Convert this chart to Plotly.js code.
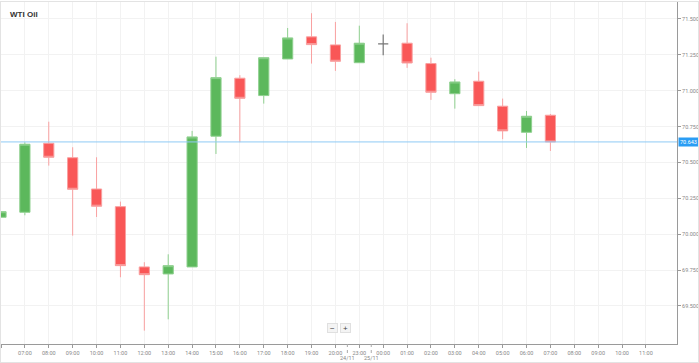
<!DOCTYPE html>
<html>
<head>
<meta charset="utf-8">
<script src="https://cdn.plot.ly/plotly-3.0.1.min.js"></script>
<style>
  html, body { margin: 0; padding: 0; background: #fff; }
  #wrap { position: absolute; left: 0; top: 1px; width: 699px; height: 362px; box-sizing: border-box; border: 1px solid #e3e3e3; }
  #chart { width: 697px; height: 360px; }
</style>
</head>
<body>
<div id="wrap"><div id="chart"></div></div>
<script>
// Hour labels of the x axis (24/11 06:00 ... 25/11 11:00)
const hourLabels = ['06:00','07:00','08:00','09:00','10:00','11:00','12:00','13:00','14:00','15:00','16:00','17:00','18:00','19:00','20:00',
                    '23:00','00:00','01:00','02:00','03:00','04:00','05:00','06:00','07:00','08:00','09:00','10:00','11:00'];
// OHLC values for the candles (first 24 hours)
const openV  = [70.118,70.153,70.634,70.533,70.315,70.192,69.772,69.723,69.772,70.683,71.087,70.966,71.221,71.375,71.319,71.195,71.326,71.331,71.189,70.979,71.066,70.892,70.710,70.829];
const highV  = [70.160,70.641,70.784,70.606,70.536,70.227,69.805,69.860,70.720,71.237,71.108,71.230,71.437,71.540,71.479,71.453,71.391,71.470,71.230,71.080,71.133,70.945,70.859,70.838];
const lowV   = [70.118,70.132,70.478,69.990,70.120,69.700,69.328,69.407,69.772,70.559,70.641,70.910,71.221,71.189,71.138,71.195,71.247,71.159,70.936,70.875,70.896,70.662,70.601,70.580];
const closeV = [70.157,70.627,70.536,70.313,70.195,69.781,69.718,69.781,70.678,71.091,70.947,71.230,71.368,71.321,71.205,71.331,71.326,71.193,70.989,71.061,70.896,70.720,70.822,70.643];
// Y tick values
const yTicks = [69.5,69.75,70.0,70.25,70.5,70.75,71.0,71.25,71.5];
// Day markers
const dayLabels = ['24/11','25/11'];

const pos = hourLabels.map((_, i) => i);
const idxMain = [], idxDoji = [];
openV.forEach((o, i) => { (o === closeV[i] ? idxDoji : idxMain).push(i); });
const pick = (arr, idx) => idx.map(i => arr[i]);

const GREEN = '#5cb85c', GREEN_L = '#8fd08f';
const RED = '#f95757', RED_L = '#f9a0a0';

const traces = [
  {
    type: 'candlestick',
    x: pick(pos, idxMain), open: pick(openV, idxMain), high: pick(highV, idxMain),
    low: pick(lowV, idxMain), close: pick(closeV, idxMain),
    increasing: { fillcolor: GREEN, line: { color: GREEN_L, width: 1 } },
    decreasing: { fillcolor: RED, line: { color: RED_L, width: 1 } },
    whiskerwidth: 0, hoverinfo: 'skip', showlegend: false
  },
  {
    type: 'candlestick',
    x: pick(pos, idxDoji), open: pick(openV, idxDoji), high: pick(highV, idxDoji),
    low: pick(lowV, idxDoji), close: pick(closeV, idxDoji),
    increasing: { fillcolor: '#777', line: { color: '#777', width: 1.2 } },
    decreasing: { fillcolor: '#777', line: { color: '#777', width: 1.2 } },
    whiskerwidth: 0, hoverinfo: 'skip', showlegend: false
  }
];

const lastClose = closeV[closeV.length - 1];
const dayPos = [hourLabels.indexOf('20:00') + 0.5, hourLabels.indexOf('00:00') - 0.5];

const tickFont = { family: 'Roboto, Arial, sans-serif', size: 5.5, color: '#888' };

const layout = {
  width: 697, height: 360,
  margin: { l: 0, r: 21, t: 0, b: 18 },
  paper_bgcolor: '#fff', plot_bgcolor: '#fff',
  boxgap: 0.39,
  title: { text: '<b>WTI Oil</b>', x: 0.013, xanchor: 'left', xref: 'container', y: 0.967, yref: 'container', yanchor: 'middle',
           font: { family: 'Arial, Liberation Sans, sans-serif', size: 8, color: '#333' } },
  xaxis: {
    range: [0, 28.3], tickvals: pos, ticktext: hourLabels,
    showgrid: true, gridcolor: '#f2f2f2', gridwidth: 1, zeroline: false,
    showline: true, linecolor: '#9a9a9a', linewidth: 1,
    ticks: 'outside', ticklen: 3, tickcolor: '#9a9a9a', tickfont: tickFont,
    rangeslider: { visible: false }, fixedrange: true
  },
  yaxis: {
    side: 'right', range: [69.235, 71.618], tickvals: yTicks, tickformat: '.3f',
    showgrid: true, gridcolor: '#f2f2f2', gridwidth: 1, zeroline: false,
    showline: true, linecolor: '#9a9a9a', linewidth: 1,
    ticks: 'outside', ticklen: 3, tickcolor: '#9a9a9a', tickfont: tickFont, fixedrange: true
  },
  shapes: [
    { type: 'line', xref: 'paper', x0: 0, x1: 1, yref: 'y', y0: lastClose, y1: lastClose,
      line: { color: '#8fcaf5', width: 1 }, layer: 'above' },
    ...dayPos.map(p => ({ type: 'line', xref: 'x', x0: p, x1: p, yref: 'paper', y0: 0, y1: -0.027,
      line: { color: '#aaa', width: 1, dash: 'dot' } }))
  ],
  annotations: [
    { xref: 'paper', x: 1, xanchor: 'left', xshift: 1, yref: 'y', y: lastClose, yanchor: 'middle',
      text: lastClose.toFixed(3), showarrow: false, bgcolor: '#2a9df4', borderpad: 1,
      font: { family: 'Roboto, Arial, sans-serif', size: 5.5, color: '#fff' } },
    ...dayLabels.map((t, k) => ({ xref: 'x', x: dayPos[k], yref: 'paper', y: -0.04, yanchor: 'middle',
      text: t, showarrow: false, borderpad: 0, font: tickFont })),
    { xref: 'paper', x: 0.491, yref: 'paper', y: 0.032, text: '−', showarrow: false,
      bgcolor: '#f4f4f4', bordercolor: '#e0e0e0', borderwidth: 1, borderpad: 0, width: 9, height: 8,
      font: { family: 'Arial, sans-serif', size: 8, color: '#444' } },
    { xref: 'paper', x: 0.509, yref: 'paper', y: 0.032, text: '+', showarrow: false,
      bgcolor: '#f4f4f4', bordercolor: '#e0e0e0', borderwidth: 1, borderpad: 0, width: 9, height: 8,
      font: { family: 'Arial, sans-serif', size: 8, color: '#444' } }
  ]
};

Plotly.newPlot('chart', traces, layout, { displayModeBar: false, staticPlot: true });
</script>
</body>
</html>
